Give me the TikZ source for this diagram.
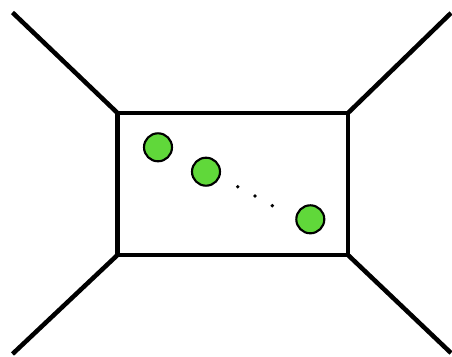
\documentclass[tikz,border=0pt]{standalone}
\definecolor{ballgreen}{RGB}{96,216,58}
\tikzset{
  thick line/.style={line width=3.4pt},
  ball/.style={circle, draw=black, line width=1.6pt, fill=ballgreen, minimum size=28*0.75pt, inner sep=0pt},
  dotmark/.style={circle, fill=black, minimum size=3.8*0.75pt, inner sep=0pt}
}
\begin{document}
\begin{tikzpicture}[x=0.75pt,y=-0.75pt]
\useasboundingbox (0,0) rectangle (452,356);
\coordinate (tl) at (117.5,113);
\coordinate (tr) at (348,113);
\coordinate (br) at (348,255);
\coordinate (bl) at (117.5,255);
\coordinate (otl) at (12.5,12.5);
\coordinate (otr) at (451,13);
\coordinate (obl) at (12.5,354);
\coordinate (obr) at (451,353);
\draw[thick line, line join=miter] (tl) -- (tr) -- (br) -- (bl) -- cycle;
\draw[thick line] (tl) -- (otl);
\draw[thick line] (tr) -- (otr);
\draw[thick line] (bl) -- (obl);
\draw[thick line] (br) -- (obr);
\node[ball] (b1) at (158,147.3) {};
\node[ball] (b2) at (206,171.7) {};
\node[ball] (b3) at (310.3,219.3) {};
\node[dotmark] (d1) at (237.7,186.7) {};
\node[dotmark] (d2) at (255,196) {};
\node[dotmark] (d3) at (272.3,205.7) {};
\end{tikzpicture}
\end{document}
